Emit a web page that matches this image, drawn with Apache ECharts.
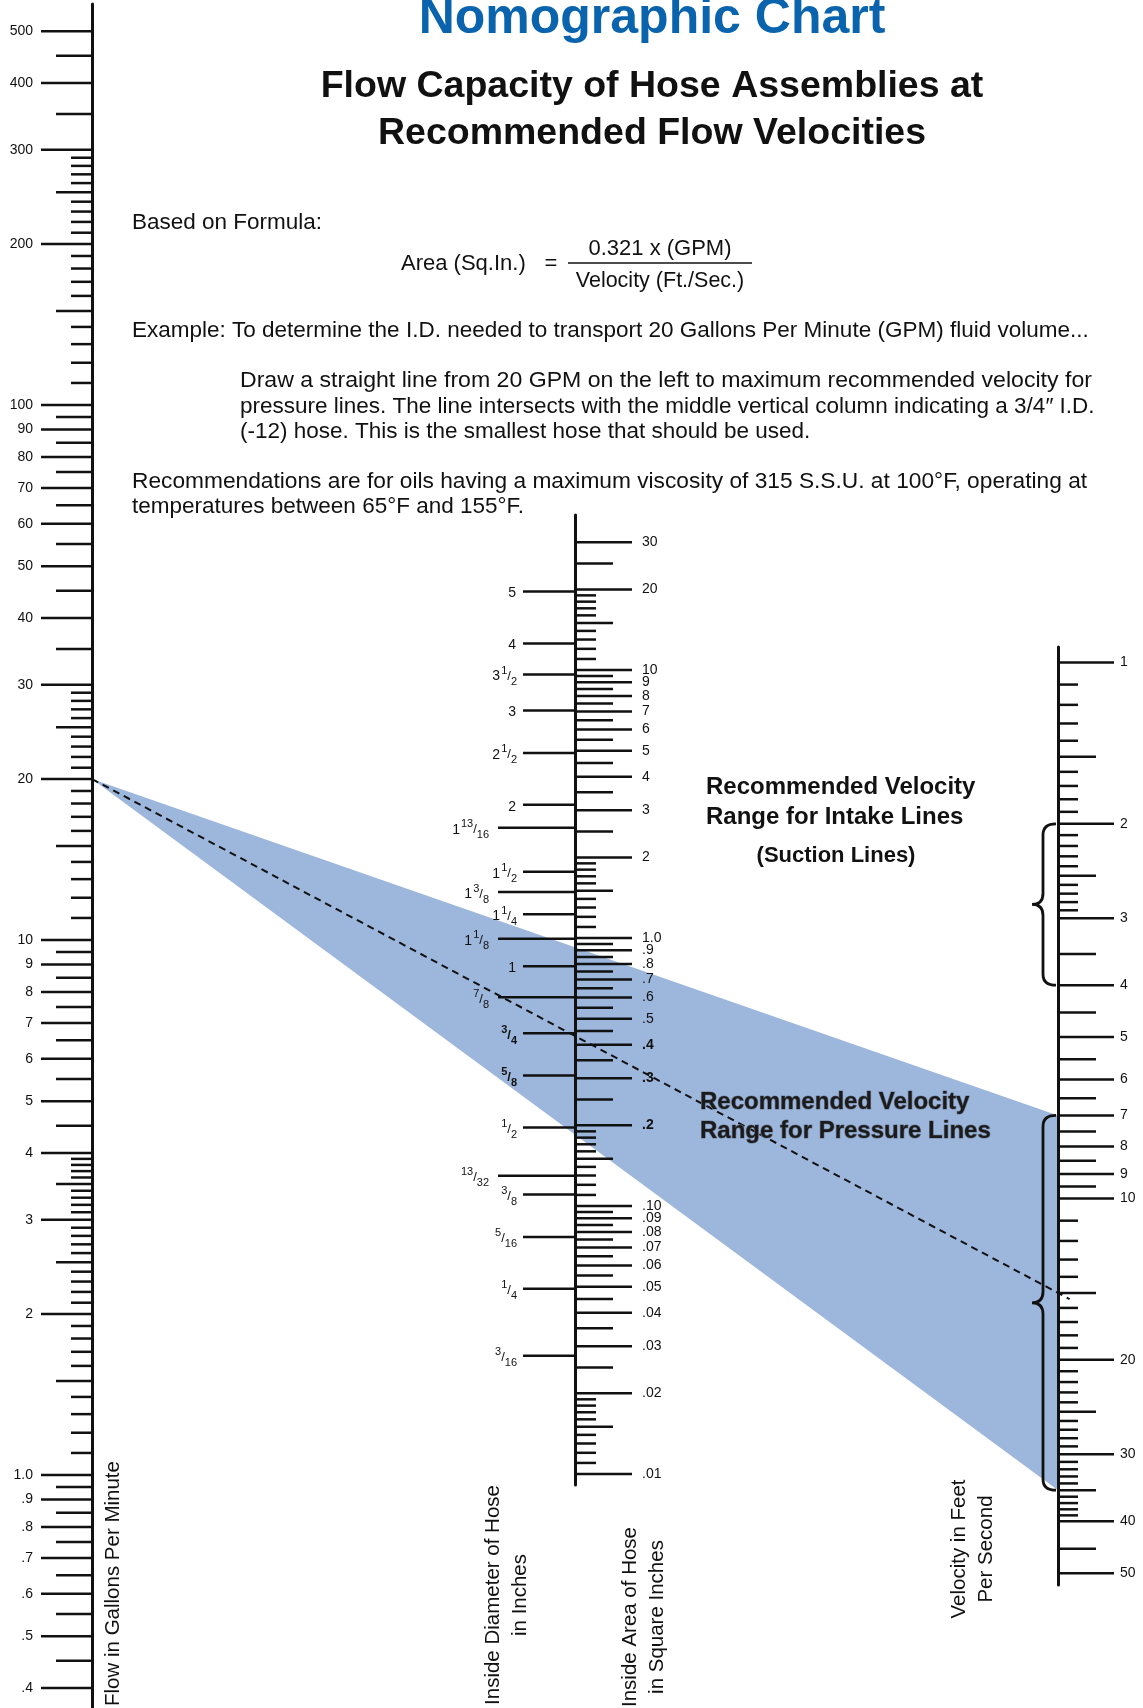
<!DOCTYPE html>
<html>
<head>
<meta charset="utf-8">
<script src="https://cdn.jsdelivr.net/npm/echarts@6/dist/echarts.min.js"></script>
<style>
html, body { margin: 0; padding: 0; background: #fff; }
#main { width: 1143px; height: 1708px; }
</style>
</head>
<body>
<div id="main"></div>
<script>
// ---- flow scale (GPM), left column
var gpmMajor = [500, 400, 300, 200, 100, 90, 80, 70, 60, 50, 40, 30, 20, 10, 9, 8, 7, 6, 5, 4, 3, 2, 1, 0.9, 0.8, 0.7, 0.6, 0.5, 0.4];
var gpmLabels = ['500', '400', '300', '200', '100', '90', '80', '70', '60', '50', '40', '30', '20', '10', '9', '8', '7', '6', '5', '4', '3', '2', '1.0', '.9', '.8', '.7', '.6', '.5', '.4'];
var gpmMedium = [450, 350, 250, 150, 95, 85, 75, 65, 55, 45, 35, 25, 15, 9.5, 8.5, 7.5, 6.5, 5.5, 4.5, 3.5, 2.5, 1.5, 0.95, 0.85, 0.75, 0.65, 0.55, 0.45];
var gpmMinor = [290, 280, 270, 260, 240, 230, 220, 210, 190, 180, 170, 160, 140, 130, 120, 110,
    29, 28, 27, 26, 24, 23, 22, 21, 19, 18, 17, 16, 14, 13, 12, 11,
    3.9, 3.8, 3.7, 3.6, 3.4, 3.3, 3.2, 3.1,
    2.9, 2.8, 2.7, 2.6, 2.4, 2.3, 2.2, 2.1, 1.9, 1.8, 1.7, 1.6, 1.4, 1.3, 1.2, 1.1];

// ---- inside area (sq.in.), middle column right side
var areaMajor = [30, 20, 10, 9, 8, 7, 6, 5, 4, 3, 2, 1, 0.9, 0.8, 0.7, 0.6, 0.5, 0.4, 0.3, 0.2, 0.1, 0.09, 0.08, 0.07, 0.06, 0.05, 0.04, 0.03, 0.02, 0.01];
var areaLabels = ['30', '20', '10', '9', '8', '7', '6', '5', '4', '3', '2', '1.0', '.9', '.8', '.7', '.6', '.5', '.4', '.3', '.2', '.10', '.09', '.08', '.07', '.06', '.05', '.04', '.03', '.02', '.01'];
var areaBold = ['.4', '.3', '.2'];
var areaMedium = [25, 15, 9.5, 8.5, 7.5, 6.5, 5.5, 4.5, 3.5, 2.5, 1.5, 0.95, 0.85, 0.75, 0.65, 0.55, 0.45, 0.35, 0.25, 0.15, 0.095, 0.085, 0.075, 0.065, 0.055, 0.045, 0.035, 0.025, 0.015];
var areaMinor = [19, 18, 17, 16, 14, 13, 12, 11, 1.9, 1.8, 1.7, 1.6, 1.4, 1.3, 1.2, 1.1,
    0.19, 0.18, 0.17, 0.16, 0.14, 0.13, 0.12, 0.11, 0.019, 0.018, 0.017, 0.016, 0.014, 0.013, 0.012, 0.011];

// ---- inside diameter (in.), middle column left side
var idValues = [5, 4, 3.5, 3, 2.5, 2, 1.8125, 1.5, 1.375, 1.25, 1.125, 1, 0.875, 0.75, 0.625, 0.5, 0.40625, 0.375, 0.3125, 0.25, 0.1875];
var idLabels = ['5', '4', '3 1/2', '3', '2 1/2', '2', '1 13/16', '1 1/2', '1 3/8', '1 1/4', '1 1/8', '1', '7/8', '3/4', '5/8', '1/2', '13/32', '3/8', '5/16', '1/4', '3/16'];
var idLongTicks = [1.8125, 1.375, 1.125, 0.875, 0.40625];
var idBold = [0.75, 0.625];

// ---- velocity (ft/s), right column
var velMajor = [1, 2, 3, 4, 5, 6, 7, 8, 9, 10, 20, 30, 40, 50];
var velLabels = ['1', '2', '3', '4', '5', '6', '7', '8', '9', '10', '20', '30', '40', '50'];
var velMedium = [1.5, 2.5, 3.5, 4.5, 5.5, 6.5, 7.5, 8.5, 9.5, 15, 25, 35, 45];
var velMinor = [1.1, 1.2, 1.3, 1.4, 1.6, 1.7, 1.8, 1.9, 2.1, 2.2, 2.3, 2.4, 2.6, 2.7, 2.8, 2.9,
    11, 12, 13, 14, 16, 17, 18, 19, 21, 22, 23, 24, 26, 27, 28, 29, 31, 32, 33, 34, 36, 37, 38, 39];

// ---- axis ranges (value at each end of the drawn column line)
var gpmExtent = [0.367, 562];
var areaExtent = [0.0091, 37.9];
var velExtent = [0.936, 52.6];

// ---- recommended ranges and worked example
var intakeRange = [2, 4];
var pressureRange = [7, 35];
var exampleFlow = 20;
var exampleVelocity = 15;

var FONT = '"Liberation Sans", Arial, Helvetica, sans-serif';
var INK = '#111';

var chart = echarts.init(document.getElementById('main'), null, { renderer: 'canvas' });

// diameter axis is the area axis seen through A = pi d^2 / 4
var idExtent = areaExtent.map(function (a) { return Math.sqrt(4 * a / Math.PI); });

function logAxis(grid, ext, showLine, inverse) {
    return {
        gridIndex: grid, type: 'log', min: ext[0], max: ext[1], inverse: !!inverse,
        position: 'left', show: showLine !== false,
        axisLine: { show: true, onZero: false, lineStyle: { color: INK, width: 3 } },
        axisTick: { show: false }, axisLabel: { show: false }, splitLine: { show: false }
    };
}

function tickSeries(xi, yi, values, dx, w) {
    return {
        type: 'custom', xAxisIndex: xi, yAxisIndex: yi, silent: true, z: 3,
        data: values.map(function (v) { return [0, v]; }),
        renderItem: function (params, api) {
            var p = api.coord([0, api.value(1)]);
            return {
                type: 'line',
                shape: { x1: p[0], y1: p[1], x2: p[0] + dx, y2: p[1] },
                style: { stroke: INK, lineWidth: w }
            };
        }
    };
}

// dx may be a number or a function of the value (label offset from the column)
function labelSeries(xi, yi, values, texts, dx, align, fontFn, dy) {
    return {
        type: 'custom', xAxisIndex: xi, yAxisIndex: yi, silent: true, z: 4,
        data: values.map(function (v) { return [0, v]; }),
        renderItem: function (params, api) {
            var v = values[params.dataIndex];
            var p = api.coord([0, api.value(1)]);
            var f = fontFn(texts[params.dataIndex], v);
            var off = typeof dx === 'function' ? dx(v) : dx;
            return {
                type: 'text',
                style: {
                    text: f.text, x: p[0] + off, y: p[1] + (dy || 0),
                    font: f.font, fill: INK, rich: f.rich,
                    align: align, textAlign: align, verticalAlign: 'middle', textVerticalAlign: 'middle'
                }
            };
        }
    };
}

function plainFont(t) {
    return { text: t, font: '14px ' + FONT };
}
function areaFont(t) {
    return { text: t, font: (areaBold.indexOf(t) >= 0 ? 'bold ' : '') + '14px ' + FONT };
}
// fractions like "3 1/2" -> 3 with raised numerator / lowered denominator
function fracFont(t, v) {
    var b = idBold.indexOf(v) >= 0 ? 'bold' : 'normal';
    var rich = {
        w: { fontSize: 14, fontWeight: b, fontFamily: FONT, lineHeight: 22, verticalAlign: 'middle', padding: [0, 1, 0, 0] },
        n: { fontSize: 11, fontWeight: b, fontFamily: FONT, lineHeight: 12, verticalAlign: 'top' },
        s: { fontSize: 13, fontWeight: b, fontFamily: FONT, lineHeight: 22, verticalAlign: 'middle' },
        d: { fontSize: 11, fontWeight: b, fontFamily: FONT, lineHeight: 12, verticalAlign: 'bottom' }
    };
    var parts = t.split(' ');
    var s = '';
    var frac = parts[parts.length - 1];
    if (frac.indexOf('/') < 0) {
        s = '{w|' + frac + '}';
    } else {
        if (parts.length > 1) s += '{w|' + parts[0] + '}';
        var nd = frac.split('/');
        s += '{n|' + nd[0] + '}{s|/}{d|' + nd[1] + '}';
    }
    return { text: s, font: '14px ' + FONT, rich: rich };
}

var idNormal = idValues.filter(function (v) { return idLongTicks.indexOf(v) < 0; });

var series = [
    // left column: flow
    tickSeries(0, 0, gpmMajor, -51, 2.5),
    tickSeries(0, 0, gpmMedium, -36, 2.5),
    tickSeries(0, 0, gpmMinor, -21, 2.5),
    labelSeries(0, 0, gpmMajor, gpmLabels, -59, 'right', plainFont),
    // middle column: area (right side)
    tickSeries(1, 1, areaMajor, 57, 2.5),
    tickSeries(1, 1, areaMedium, 38, 2.5),
    tickSeries(1, 1, areaMinor, 21, 2.5),
    labelSeries(1, 1, areaMajor, areaLabels, 67, 'left', areaFont),
    // middle column: inside diameter (left side)
    tickSeries(1, 2, idNormal, -52, 2.5),
    tickSeries(1, 2, idLongTicks, -77, 2.5),
    labelSeries(1, 2, idValues, idLabels, function (v) {
        return idLongTicks.indexOf(v) >= 0 ? -86 : -58;
    }, 'right', fracFont, 2),
    // right column: velocity
    tickSeries(2, 3, velMajor, 56, 2.5),
    tickSeries(2, 3, velMedium, 38, 2.5),
    tickSeries(2, 3, velMinor, 20, 2.5),
    labelSeries(2, 3, velMajor, velLabels, 62, 'left', plainFont),
    // braces for the recommended ranges
    {
        type: 'custom', xAxisIndex: 2, yAxisIndex: 3, silent: true, z: 5,
        data: [[0, intakeRange[0], intakeRange[1]], [0, pressureRange[0], pressureRange[1]]],
        renderItem: function (params, api) {
            var a = api.coord([0, api.value(1)]);
            var b = api.coord([0, api.value(2)]);
            var x0 = a[0] - 2, xs = a[0] - 15, xt = a[0] - 26;
            var y1 = a[1], y2 = b[1], ym = (y1 + y2) / 2, r = 11;
            var d = 'M' + x0 + ' ' + y1 + ' Q' + xs + ' ' + y1 + ' ' + xs + ' ' + (y1 + r) +
                ' L' + xs + ' ' + (ym - r) + ' Q' + xs + ' ' + ym + ' ' + xt + ' ' + ym +
                ' Q' + xs + ' ' + ym + ' ' + xs + ' ' + (ym + r) +
                ' L' + xs + ' ' + (y2 - r) + ' Q' + xs + ' ' + y2 + ' ' + x0 + ' ' + y2;
            return { type: 'path', shape: { pathData: d }, style: { fill: null, stroke: INK, lineWidth: 2.8 } };
        }
    }
];

var option = {
    backgroundColor: '#fff',
    animation: false,
    grid: [
        { left: 92, top: 4, width: 20, height: 1704 },
        { left: 575, top: 515, width: 20, height: 970 },
        { left: 1058, top: 647, width: 20, height: 938 }
    ],
    xAxis: [0, 1, 2].map(function (i) {
        return { gridIndex: i, type: 'value', min: 0, max: 1, show: false };
    }),
    yAxis: [
        logAxis(0, gpmExtent),
        logAxis(1, areaExtent),
        logAxis(1, idExtent, false),
        logAxis(2, velExtent, true, true)
    ],
    series: series
};

chart.setOption(option);

// ---- texts
function txt(x, y, s, font, opt) {
    opt = opt || {};
    var st = {
        text: s, font: font, fill: opt.fill || INK,
        align: opt.align || 'left', textAlign: opt.align || 'left',
        verticalAlign: 'middle', textVerticalAlign: 'middle'
    };
    if (opt.stroke) { st.stroke = opt.stroke; st.lineWidth = opt.strokeW; }
    return {
        type: 'text', x: x, y: y, rotation: opt.rot || 0, scaleX: opt.sx || 1,
        silent: true, z: opt.z || 20, style: st
    };
}
var body = '22.5px ' + FONT;
var boldMid = 'bold 24px ' + FONT;
var vert = '20.5px ' + FONT;
var texts = [
    txt(652, 19, 'Nomographic Chart', 'bold 50px ' + FONT, { align: 'center', fill: '#0a64ad' }),
    txt(652, 87, 'Flow Capacity of Hose Assemblies at', 'bold 37.5px ' + FONT, { align: 'center' }),
    txt(652, 134, 'Recommended Flow Velocities', 'bold 37.5px ' + FONT, { align: 'center' }),
    txt(132, 223, 'Based on Formula:', body),
    txt(401, 264, 'Area (Sq.In.)', '22px ' + FONT),
    txt(551, 264, '=', '22px ' + FONT, { align: 'center' }),
    txt(660, 249, '0.321 x (GPM)', '22px ' + FONT, { align: 'center' }),
    txt(660, 281, 'Velocity (Ft./Sec.)', '21.5px ' + FONT, { align: 'center' }),
    txt(132, 331, 'Example: To determine the I.D. needed to transport 20 Gallons Per Minute (GPM) fluid volume...', body),
    txt(240, 381, 'Draw a straight line from 20 GPM on the left to maximum recommended velocity for', body, { sx: 1.026 }),
    txt(240, 407, 'pressure lines. The line intersects with the middle vertical column indicating a 3/4\u2033 I.D.', body),
    txt(240, 432, '(-12) hose. This is the smallest hose that should be used.', body),
    txt(132, 482, 'Recommendations are for oils having a maximum viscosity of 315 S.S.U. at 100\u00b0F, operating at', body, { sx: 1.01 }),
    txt(132, 507, 'temperatures between 65\u00b0F and 155\u00b0F.', body),
    txt(706, 787, 'Recommended Velocity', boldMid),
    txt(706, 817, 'Range for Intake Lines', boldMid),
    txt(836, 856, '(Suction Lines)', 'bold 22px ' + FONT, { align: 'center' }),
    txt(700, 1102, 'Recommended Velocity', boldMid, { fill: '#1b1b1b', stroke: '#6d7d96', strokeW: 1.2 }),
    txt(700, 1131, 'Range for Pressure Lines', boldMid, { fill: '#1b1b1b', stroke: '#6d7d96', strokeW: 1.2 }),
    txt(113, 1706, 'Flow in Gallons Per Minute', vert, { rot: Math.PI / 2 }),
    txt(493, 1595, 'Inside Diameter of Hose', vert, { rot: Math.PI / 2, align: 'center' }),
    txt(520, 1595, 'in Inches', vert, { rot: Math.PI / 2, align: 'center' }),
    txt(630, 1617, 'Inside Area of Hose', vert, { rot: Math.PI / 2, align: 'center' }),
    txt(657, 1617, 'in Square Inches', vert, { rot: Math.PI / 2, align: 'center' }),
    txt(959, 1549, 'Velocity in Feet', vert, { rot: Math.PI / 2, align: 'center' }),
    txt(986, 1549, 'Per Second', vert, { rot: Math.PI / 2, align: 'center' })
];

// ---- shaded pressure-line band and the worked example line, placed through the axes
var apex = chart.convertToPixel({ xAxisIndex: 0, yAxisIndex: 0 }, [0, exampleFlow]);
var pTop = chart.convertToPixel({ xAxisIndex: 2, yAxisIndex: 3 }, [0, pressureRange[0]]);
var pBot = chart.convertToPixel({ xAxisIndex: 2, yAxisIndex: 3 }, [0, pressureRange[1]]);
var pEx = chart.convertToPixel({ xAxisIndex: 2, yAxisIndex: 3 }, [0, exampleVelocity]);
var ext = 1.012;
var shapes = [
    {
        type: 'polygon', silent: true, z: -1,
        shape: { points: [apex, pTop, pBot] },
        style: { fill: '#9db6dc' }
    },
    {
        type: 'line', silent: true, z: 15,
        shape: {
            x1: apex[0], y1: apex[1],
            x2: apex[0] + (pEx[0] - apex[0]) * ext, y2: apex[1] + (pEx[1] - apex[1]) * ext
        },
        style: { stroke: INK, lineWidth: 2, lineDash: [7, 5] }
    },
    {
        type: 'line', silent: true, z: 20,
        shape: { x1: 568, y1: 263, x2: 752, y2: 263 },
        style: { stroke: INK, lineWidth: 1.5 }
    }
];
chart.setOption({ graphic: shapes.concat(texts) });
</script>
</body>
</html>
